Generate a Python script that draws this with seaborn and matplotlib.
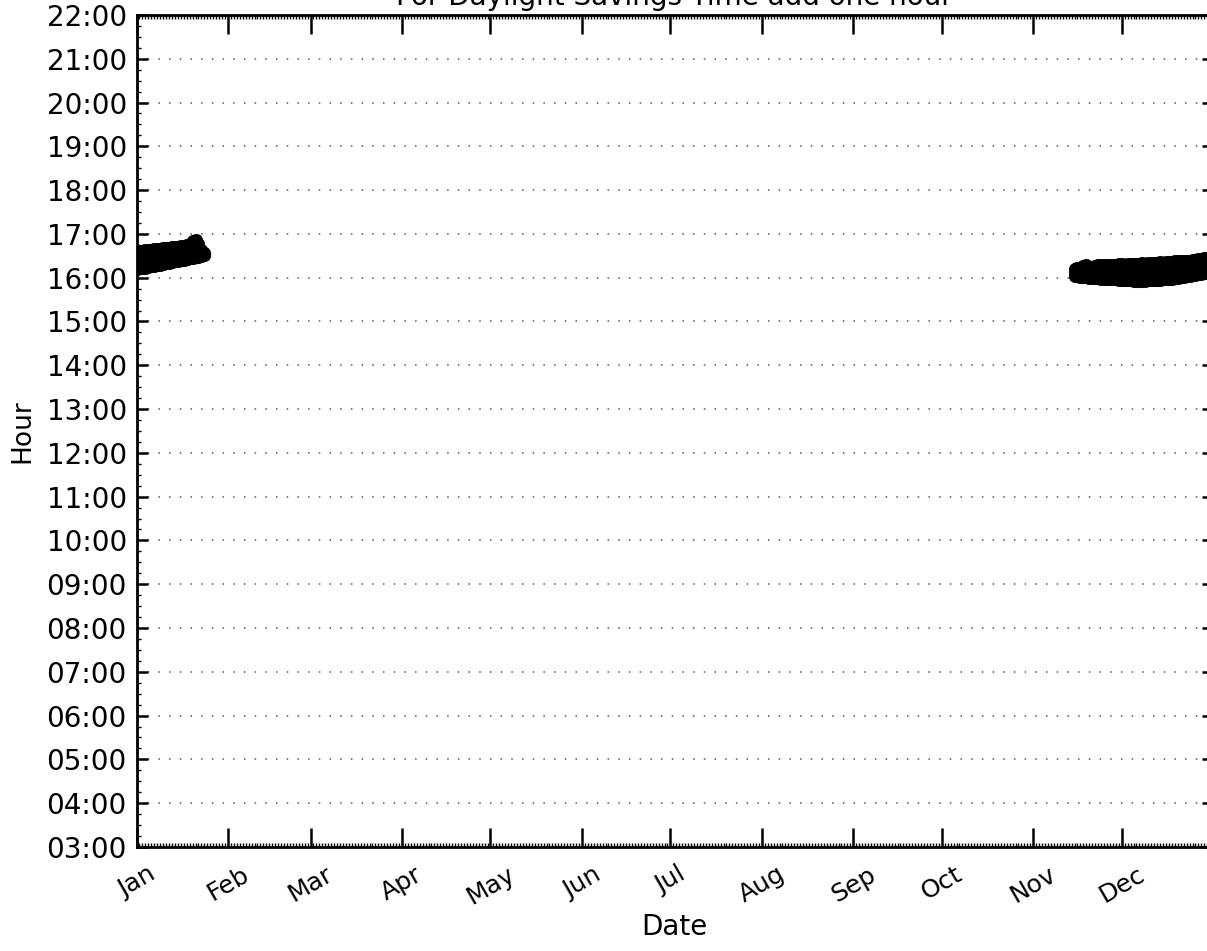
import pandas as pd
import matplotlib
matplotlib.use("Agg")
import matplotlib.pyplot as plt
import matplotlib.dates as mdates
from matplotlib.ticker import MultipleLocator, FuncFormatter
import seaborn as sns

# sunset time (decimal hours, standard time) - lower, middle and upper edge of the band
jan_days = [1, 2, 3, 4, 5, 6, 7, 8, 9, 10, 11, 12, 13, 14, 15, 16, 17, 18, 19, 20, 21, 22, 23, 24]
jan_low = [16.20, 16.21, 16.22, 16.23, 16.25, 16.26, 16.27, 16.29, 16.30, 16.31, 16.33, 16.34,
           16.35, 16.37, 16.38, 16.40, 16.41, 16.42, 16.44, 16.45, 16.47, 16.48, 16.50, 16.52]
jan_mid = [16.41, 16.42, 16.43, 16.44, 16.45, 16.46, 16.47, 16.48, 16.49, 16.50, 16.51, 16.52,
           16.53, 16.54, 16.55, 16.56, 16.57, 16.58, 16.60, 16.62, 16.63, 16.60, 16.57, 16.54]
jan_high = [16.61, 16.62, 16.62, 16.63, 16.64, 16.64, 16.65, 16.66, 16.66, 16.67, 16.68, 16.68,
            16.69, 16.70, 16.71, 16.72, 16.72, 16.74, 16.78, 16.84, 16.85, 16.78, 16.64, 16.56]

nov_days = [15, 16, 17, 18, 19, 20, 21, 22, 23, 24, 25, 26, 27, 28, 29, 30]
nov_low = [16.04, 16.03, 16.02, 16.02, 16.01, 16.00, 16.00, 15.99, 15.99, 15.98, 15.98, 15.97,
           15.97, 15.96, 15.96, 15.95]
nov_mid = [16.12, 16.12, 16.12, 16.14, 16.14, 16.13, 16.12, 16.12, 16.14, 16.14, 16.13, 16.13,
           16.13, 16.13, 16.13, 16.13]
nov_high = [16.20, 16.22, 16.23, 16.27, 16.28, 16.25, 16.24, 16.26, 16.29, 16.30, 16.29, 16.28,
            16.29, 16.30, 16.30, 16.31]

dec_days = [1, 2, 3, 4, 5, 6, 7, 8, 9, 10, 11, 12, 13, 14, 15, 16, 17, 18, 19, 20, 21, 22, 23,
            24, 25, 26, 27, 28, 29, 30, 31]
dec_low = [15.95, 15.94, 15.94, 15.94, 15.93, 15.93, 15.93, 15.93, 15.93, 15.94, 15.94, 15.94,
           15.95, 15.95, 15.96, 15.96, 15.97, 15.98, 15.99, 16.00, 16.01, 16.02, 16.03, 16.04,
           16.05, 16.07, 16.08, 16.09, 16.11, 16.12, 16.14]
dec_mid = [16.13, 16.12, 16.12, 16.13, 16.12, 16.12, 16.13, 16.13, 16.13, 16.14, 16.14, 16.14,
           16.15, 16.15, 16.15, 16.16, 16.17, 16.17, 16.18, 16.19, 16.20, 16.20, 16.21, 16.22,
           16.23, 16.24, 16.25, 16.26, 16.28, 16.29, 16.31]
dec_high = [16.31, 16.30, 16.31, 16.32, 16.31, 16.31, 16.32, 16.33, 16.32, 16.33, 16.34, 16.33,
            16.34, 16.35, 16.34, 16.35, 16.36, 16.36, 16.37, 16.37, 16.38, 16.38, 16.38, 16.39,
            16.40, 16.41, 16.42, 16.43, 16.44, 16.46, 16.47]

YEAR = 2013


def build_rows(month, days, *series):
    rows = []
    for vals in series:
        for d, h in zip(days, vals):
            rows.append({'date': pd.Timestamp(YEAR, month, d), 'hour': h})
    return rows


rows = (build_rows(1, jan_days, jan_low, jan_mid, jan_high)
        + build_rows(11, nov_days, nov_low, nov_mid, nov_high)
        + build_rows(12, dec_days, dec_low, dec_mid, dec_high))
df = pd.DataFrame(rows)

sns.set_style("ticks")
plt.rcParams['font.family'] = ['DejaVu Sans']
for key in ['text.color', 'axes.labelcolor', 'xtick.color', 'ytick.color']:
    plt.rcParams[key] = 'black'

fig = plt.figure(figsize=(12.07, 9.51), dpi=100)
ax = fig.add_axes([0.1131, 0.1094, 0.8919, 0.8749])

sns.scatterplot(data=df, x='date', y='hour', color='black', s=80,
                edgecolor='black', linewidth=0.5, ax=ax, zorder=3)

# stop just short of next January so its tick label is not drawn
ax.set_xlim(pd.Timestamp(YEAR, 1, 1), pd.Timestamp(YEAR, 12, 31, 23))
ax.set_ylim(3, 22)

ax.xaxis.set_major_locator(mdates.MonthLocator())
ax.xaxis.set_minor_locator(mdates.DayLocator())
ax.xaxis.set_major_formatter(mdates.DateFormatter('%b'))
ax.yaxis.set_major_locator(MultipleLocator(1))
ax.yaxis.set_minor_locator(MultipleLocator(0.25))
ax.yaxis.set_major_formatter(FuncFormatter(lambda v, p: f"{int(round(v)):02d}:00"))

ax.tick_params(axis='x', which='major', direction='in', length=14, width=1.8,
               top=True, bottom=True, labelsize=18, pad=11)
ax.tick_params(axis='x', which='minor', direction='in', length=3, width=1,
               top=True, bottom=True)
ax.tick_params(axis='y', which='major', direction='in', length=8, width=1.8,
               left=True, right=True, labelsize=20, pad=7)
ax.tick_params(axis='y', which='minor', direction='in', length=3, width=1,
               left=True, right=True)
for lbl in ax.get_xticklabels():
    lbl.set_rotation(30)
    lbl.set_ha('center')

for sp in ax.spines.values():
    sp.set_linewidth(2)
    sp.set_color('black')

ax.yaxis.grid(True, which='major', linestyle=(0, (1, 6)), color='0.35', linewidth=1.1)
ax.xaxis.grid(False)

ax.set_xlabel('Date', fontsize=20, labelpad=3)
ax.set_ylabel('Hour', fontsize=19, labelpad=8)
ax.set_title('For Daylight Savings Time add one hour', fontsize=20, pad=7)

fig.savefig('out.png', dpi=100)
